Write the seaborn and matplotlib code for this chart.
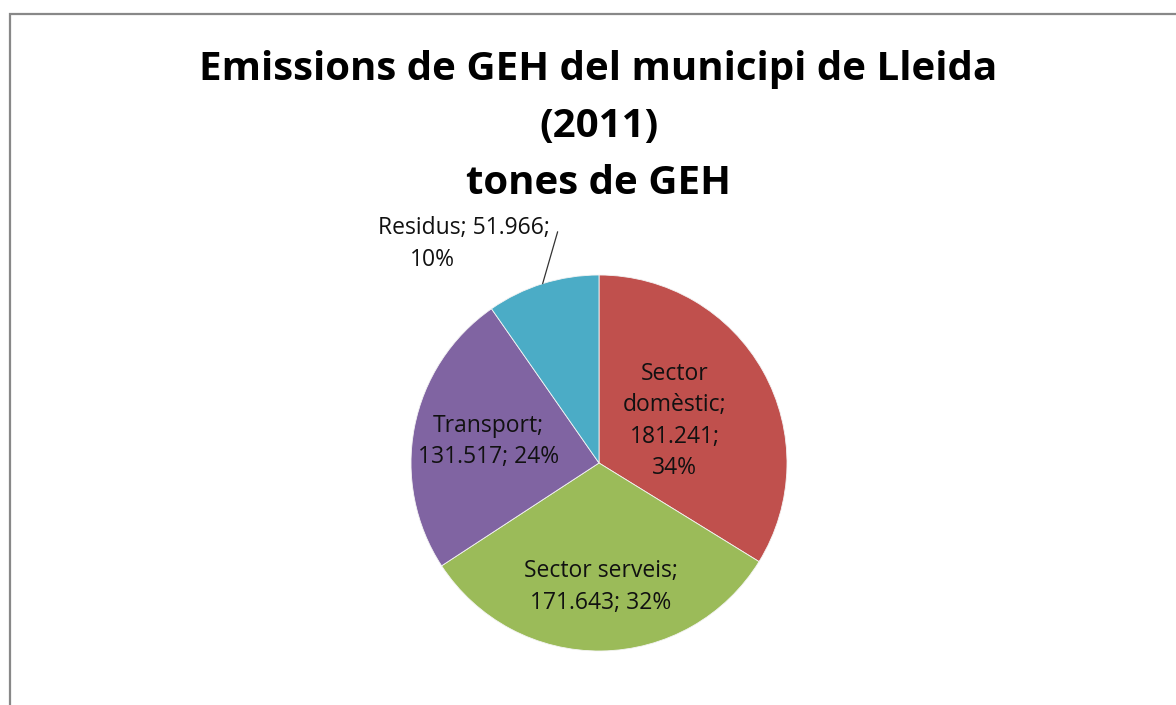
import numpy as np
import seaborn as sns
import matplotlib.pyplot as plt
from matplotlib.patches import Rectangle

# emissions per sector, tonnes GEH (2011)
sectors = ["Sector domèstic", "Sector serveis", "Transport", "Residus"]
tonnes = [181241, 171643, 131517, 51966]
pcts = [34, 32, 24, 10]  # as printed on the chart
colors = ["#C0504D", "#9BBB59", "#8064A2", "#4BACC6"]
label_lines = ["Sector\ndomèstic;\n{v};\n{p}%", "Sector serveis;\n{v}; {p}%",
               "Transport;\n{v}; {p}%", "Residus; {v};\n{p}%"]

sns.set_theme(style="white")
plt.rcParams['font.family'] = ['Open Sans', 'DejaVu Sans']

fig = plt.figure(figsize=(11.76, 7.05), dpi=100)
ax = fig.add_axes([411 / 1176, 54 / 705, 376 / 1176, 376 / 705])

wedges, _ = ax.pie(tonnes, colors=colors, startangle=90, counterclock=False,
                   radius=1, wedgeprops=dict(linewidth=0.6, edgecolor="#f4f4f4"))
ax.set_aspect("equal")
ax.set_xlim(-1, 1)
ax.set_ylim(-1, 1)
ax.axis("off")

# radial position of each label (fraction of radius)
label_r = [0.46, 0.66, 0.60, None]
for w, v, p, tmpl, r in zip(wedges, tonnes, pcts, label_lines, label_r):
    txt = tmpl.format(v=f"{v:,}".replace(",", "."), p=p)
    mid = np.deg2rad((w.theta1 + w.theta2) / 2)
    if r is not None:
        ax.text(r * np.cos(mid), r * np.sin(mid), txt, ha="center", va="center",
                fontsize=16.5, color="#111111", linespacing=1.42)
    else:
        # outside label with leader line; second line sits a bit left
        ax.plot([np.cos(mid), -0.22], [np.sin(mid), 1.23], color="#333333",
                lw=0.9, clip_on=False)
        first, second = txt.split("\n")
        ax.text(-0.72, 1.25, first, ha="center", va="center",
                fontsize=16.5, color="#111111")
        ax.text(-0.885, 1.08, second, ha="center", va="center",
                fontsize=16.5, color="#111111")

fig.text(0.509, 1 - 50 / 705,
         "Emissions de GEH del municipi de Lleida\n(2011)\ntones de GEH",
         ha="center", va="top", fontsize=29, fontweight="bold", color="black",
         linespacing=1.6)

fig.patches.append(Rectangle((9.5 / 1176, -0.05), 1.2, 1 - 13.5 / 705 + 0.05,
                             transform=fig.transFigure, fill=False,
                             edgecolor="#888888", linewidth=1.6))

fig.savefig("out.png", dpi=100)
